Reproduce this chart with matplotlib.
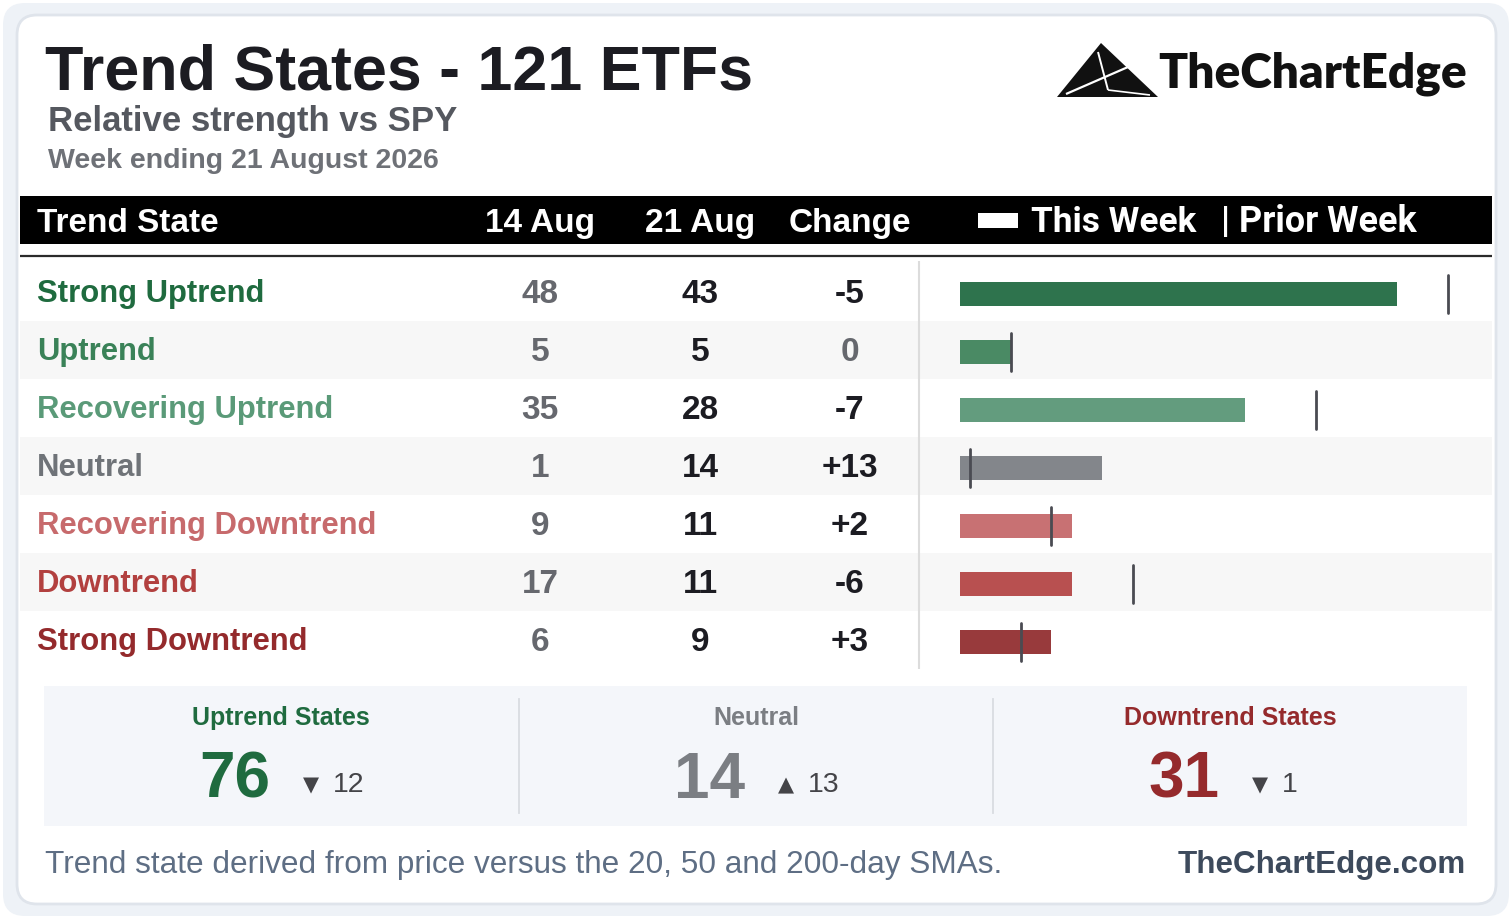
import matplotlib
matplotlib.use("Agg")
import matplotlib.pyplot as plt
from matplotlib.patches import FancyBboxPatch, Rectangle, Polygon

# ---------------- data ----------------
states = ["Strong Uptrend", "Uptrend", "Recovering Uptrend", "Neutral",
          "Recovering Downtrend", "Downtrend", "Strong Downtrend"]
prior_week = [48, 5, 35, 1, 9, 17, 6]
this_week = [43, 5, 28, 14, 11, 11, 9]
change = [-5, 0, -7, 13, 2, -6, 3]
col_labels = ["14 Aug", "21 Aug", "Change"]

label_colors = ["#1f6b3f", "#3a8258", "#5a9a78", "#6f7378",
                "#c76a6c", "#b2403f", "#942a2c"]
bar_colors = ["#2e734d", "#4a8a64", "#639c7e", "#83868b",
              "#c87173", "#b85050", "#983a3c"]

groups = ["Uptrend States", "Neutral", "Downtrend States"]
group_totals = [76, 14, 31]
group_deltas = [-12, 13, -1]
group_colors = ["#1f6b3f", "#7b7e83", "#952a2c"]

title = "Trend States - 121 ETFs"
subtitle = "Relative strength vs SPY"
week_line = "Week ending 21 August 2026"
footnote = "Trend state derived from price versus the 20, 50 and 200-day SMAs."
site = "TheChartEdge.com"
brand = "TheChartEdge"

W, H = 1512, 919
fig = plt.figure(figsize=(W / 100, H / 100), dpi=100)
fig.patch.set_facecolor("white")

ax = fig.add_axes([0, 0, 1, 1])
ax.set_xlim(0, W)
ax.set_ylim(H, 0)
ax.axis("off")

SANS = ["Liberation Sans", "DejaVu Sans"]
ROBOTO = ["Roboto", "DejaVu Sans"]

# background card
ax.add_patch(FancyBboxPatch((3, 3), W - 6, H - 6, boxstyle="round,pad=0,rounding_size=22",
                            fc="#eef2f7", ec="none"))
ax.add_patch(FancyBboxPatch((17, 15), 1479, 889, boxstyle="round,pad=0,rounding_size=20",
                            fc="white", ec="#dfe4eb", lw=2))

# titles
ax.text(45, 90, title, fontsize=45.2, fontweight="bold", color="#1c1c22",
        family=SANS, va="baseline", ha="left")
ax.text(48, 131, subtitle, fontsize=25, fontweight="bold", color="#55585f",
        family=SANS, va="baseline", ha="left")
ax.text(48, 168, week_line, fontsize=20.5, fontweight="bold", color="#6e7177",
        family=SANS, va="baseline", ha="left")

# logo
ax.add_patch(Polygon([(1057, 97), (1101, 43), (1158, 97)], closed=True, fc="#111111", ec="none"))
ax.plot([1066, 1128], [94, 67], color="white", lw=1.6, solid_capstyle="butt")
ax.plot([1098, 1108], [52, 90], color="white", lw=1.4, solid_capstyle="butt")
ax.plot([1108, 1150], [90, 95], color="white", lw=1.2, solid_capstyle="butt")
ax.text(1158, 87, brand, fontsize=34.5, fontweight="heavy", color="#111111",
        family=["Lato", "DejaVu Sans"], va="baseline", ha="left")

# header band
ax.add_patch(Rectangle((20, 196), 1472, 48, fc="black", ec="none"))
ax.text(37, 232, "Trend State", fontsize=24, fontweight="bold", color="white",
        family=SANS, va="baseline", ha="left")
col_x = [540, 700, 850]
for cx, lab in zip(col_x, col_labels):
    ax.text(cx, 232, lab, fontsize=24, fontweight="bold", color="white",
            family=SANS, va="baseline", ha="center")
ax.add_patch(Rectangle((978, 213), 40, 15, fc="white", ec="none"))
ax.text(1031, 232, "This Week", fontsize=25.3, fontweight="bold", color="white",
        family=ROBOTO, va="baseline", ha="left")
ax.text(1221, 232, "| Prior Week", fontsize=25.8, fontweight="bold", color="white",
        family=ROBOTO, va="baseline", ha="left")
ax.plot([20, 1492], [256, 256], color="#2b2b2b", lw=1.6, solid_capstyle="butt")

# rows
row_top, row_h = 263, 58
for i, st in enumerate(states):
    y0 = row_top + i * row_h
    if i % 2 == 1:
        ax.add_patch(Rectangle((20, y0), 1472, row_h, fc="#f7f7f7", ec="none"))
    ax.text(37, y0 + 39, st, fontsize=22.3, fontweight="bold", color=label_colors[i],
            family=SANS, va="baseline", ha="left")
    ax.text(col_x[0], y0 + 40, str(prior_week[i]), fontsize=24, fontweight="bold",
            color="#66686e", family=SANS, va="baseline", ha="center")
    ax.text(col_x[1], y0 + 40, str(this_week[i]), fontsize=24, fontweight="bold",
            color="#1c1c22", family=SANS, va="baseline", ha="center")
    ch = change[i]
    ch_txt = f"+{ch}" if ch > 0 else str(ch)
    ax.text(col_x[2], y0 + 40, ch_txt, fontsize=24, fontweight="bold",
            color="#66686e" if ch == 0 else "#1c1c22", family=SANS,
            va="baseline", ha="center")
ax.plot([919, 919], [261, 669], color="#dcdcdc", lw=1.5, solid_capstyle="butt")

# bar axes
bx0, bx1 = 960, 1450
by0, by1 = 265, 671
bax = fig.add_axes([bx0 / W, 1 - by1 / H, (bx1 - bx0) / W, (by1 - by0) / H])
bax.set_xlim(0, 48.2)
bax.set_ylim(len(states) - 0.5, -0.5)
bax.axis("off")
bax.patch.set_alpha(0)
ypos = list(range(len(states)))
bax.barh(ypos, this_week, height=0.414, color=bar_colors, left=0)
bax.vlines(prior_week, [y - 0.32 for y in ypos], [y + 0.32 for y in ypos],
           colors="#4a4b52", lw=2.0, capstyle="round")

# summary panel
ax.add_patch(Rectangle((44, 686), 1423, 140, fc="#f4f6fa", ec="none"))
for dx in (519, 993):
    ax.plot([dx, dx], [699, 813], color="#d9dce1", lw=1.3)
centers = [281, 756, 1230]
for cx, g, tot, d, c in zip(centers, groups, group_totals, group_deltas, group_colors):
    ax.text(cx, 725, g, fontsize=18, fontweight="bold", color=c, family=SANS,
            va="baseline", ha="center")
    ax.text(cx - 46, 798, str(tot), fontsize=46, fontweight="bold", color=c,
            family=SANS, va="baseline", ha="center")
    arrow = "\u25B2" if d > 0 else "\u25BC"
    ax.text(cx + 22, 791, arrow, fontsize=15, color="#444448",
            family=["DejaVu Sans"], va="baseline", ha="left")
    ax.text(cx + 52, 792, str(abs(d)), fontsize=20.5, color="#444448",
            family=SANS, va="baseline", ha="left")

# footer
ax.text(45, 873, footnote, fontsize=22.7, color="#5e6e84", family=SANS,
        va="baseline", ha="left")
ax.text(1466, 873, site, fontsize=22.6, fontweight="bold", color="#3d4a5c",
        family=SANS, va="baseline", ha="right")

fig.savefig("out.png", dpi=100, facecolor="white")
